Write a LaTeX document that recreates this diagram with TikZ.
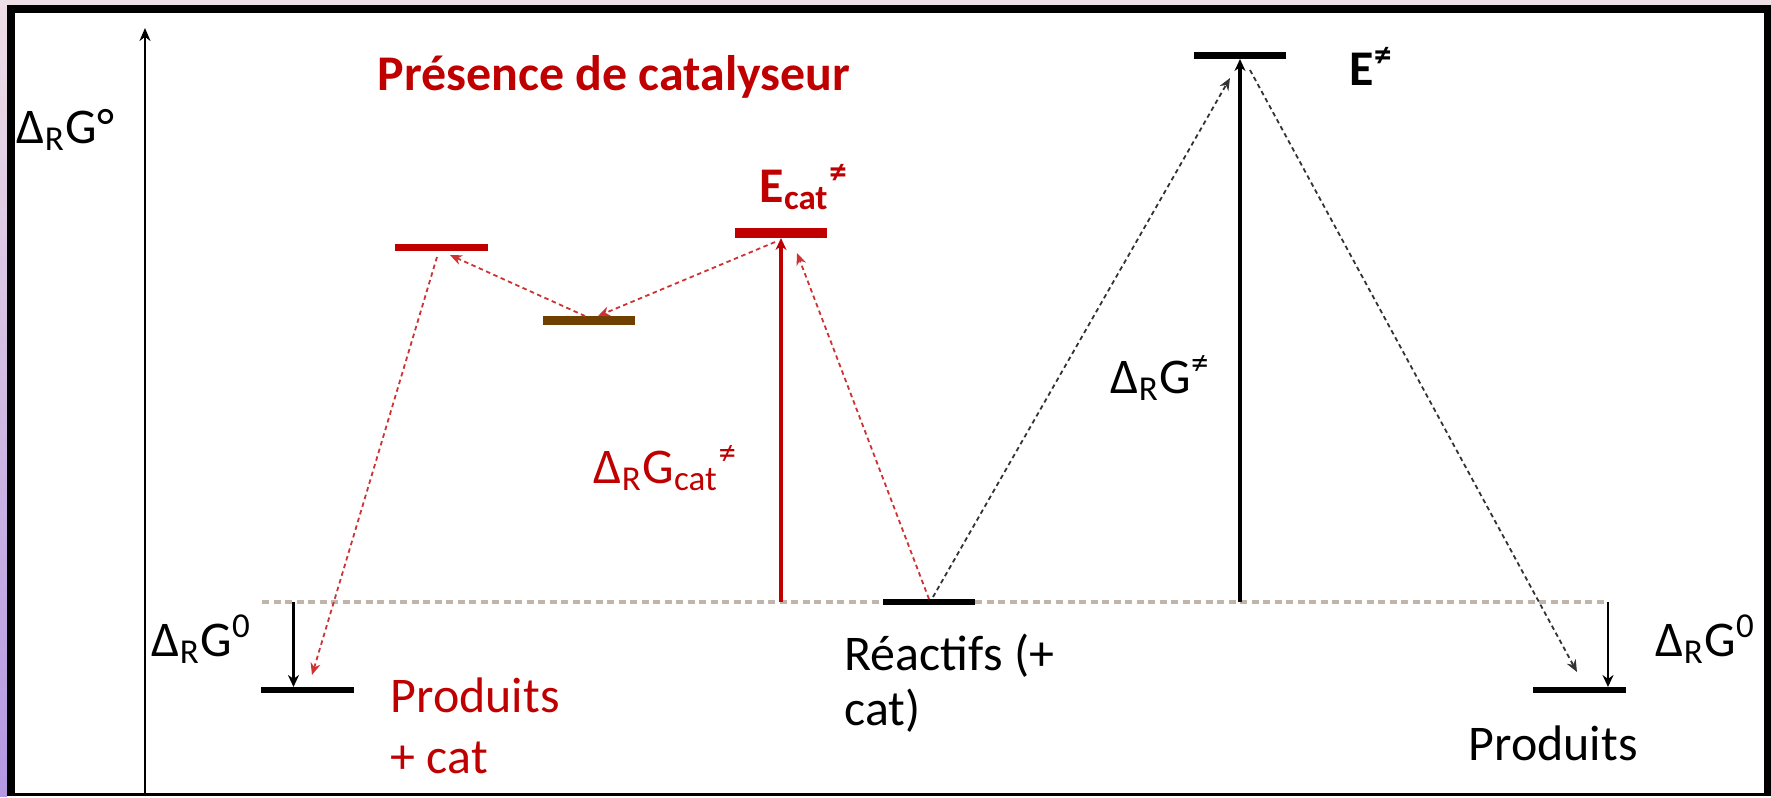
\documentclass[tikz,border=0pt]{standalone}
\usepackage{fontspec}
\setmainfont{Carlito}
\usepackage{xcolor}
\usepackage{tikz}
\usetikzlibrary{arrows.meta}
\definecolor{catred}{RGB}{192,0,0}
\definecolor{interbrown}{RGB}{112,64,0}
\definecolor{refgrey}{RGB}{192,181,171}
\definecolor{framepink}{RGB}{238,222,230}
\definecolor{framelilac}{RGB}{180,152,226}

\begin{document}
\begin{tikzpicture}[x=0.01cm,y=-0.01cm,
        lvl/.style={minimum width=0.92cm,minimum height=0.065cm,inner sep=0,
                    outer sep=0},
        lbl/.style={anchor=base west,inner sep=0,
                    font=\fontsize{14.2}{17}\selectfont},
        dG/.style={line width=0.022cm,-{Stealth[length=0.12cm,width=0.11cm]}},
        way/.style={line width=0.018cm,dash pattern=on 0.045cm off 0.035cm,
                    -{Stealth[length=0.12cm,width=0.1cm]}}]
        % cadre
        \fill[framepink] (0,0) rectangle (1771,796);
        \shade[top color=framepink,bottom color=framelilac] (0,0) rectangle (7,796);
        \fill[black] (7,5) rectangle (1771,796);
        \fill[white] (15,13) rectangle (1764,793);
        % axe
        \coordinate (o) at (145,796);
        \coordinate (up) at (145,28);
        \draw[line width=0.026cm,-{Stealth[length=0.13cm,width=0.11cm]}] (o) -- (up);
        \coordinate (gl) at (262,602);
        \coordinate (gr) at (1608,602);
        \draw[refgrey,line width=0.045cm,dash pattern=on 0.07cm off 0.045cm] (gl) -- (gr);
        % niveaux
        \foreach \n/\x/\y/\c/\h in {prodL/307.5/690/black/0.06cm,
                                    prodR/1579.5/690/black/0.06cm,
                                    rea/929/602/black/0.06cm,
                                    ts1/441.5/247.5/catred/0.07cm,
                                    inter/589/320.5/interbrown/0.09cm,
                                    ecat/781/233/catred/0.1cm,
                                    ets/1240/55.5/black/0.07cm}
          \node[lvl,fill=\c,minimum height=\h] (\n) at (\x,\y) {};
        % fleches DeltaG
        \draw[dG] ([xshift=-0.14cm]prodL.north |- gl) -- ([xshift=-0.14cm]prodL.north);
        \draw[dG] ([xshift=0.285cm]prodR.north |- gr) -- ([xshift=0.285cm]prodR.north);
        \draw[dG,catred,line width=0.04cm] (ecat.south |- rea) -- (ecat.south);
        \draw[dG,line width=0.035cm] (ets.south |- rea) -- (ets.south);
        % chemins
        \draw[way,catred!80] (rea.north) -- ([xshift=0.16cm,yshift=-0.15cm]ecat.south);
        \draw[way,catred!80] ([xshift=-0.06cm,yshift=-0.04cm]ecat.south)
          -- ([xshift=0.09cm]inter.north);
        \draw[way,catred!80] ([xshift=-0.04cm]inter.north)
          -- ([xshift=0.085cm,yshift=-0.04cm]ts1.south);
        \draw[way,catred!80] ([xshift=-0.045cm,yshift=-0.06cm]ts1.south)
          -- ([xshift=0.045cm,yshift=0.12cm]prodL.north);
        \draw[way,black!80] ([xshift=0.04cm,yshift=0.02cm]rea.north)
          -- ([xshift=-0.1cm,yshift=-0.19cm]ets.south);
        \draw[way,black!80] ([xshift=0.1cm,yshift=-0.11cm]ets.south)
          -- ([xshift=-0.025cm,yshift=0.15cm]prodR.north);
        % textes
        \node[lbl] (axlbl) at (16,143) {Δ\textsubscript{R}G°};
        \node[lbl,catred,font=\fontsize{14.2}{17}\selectfont\bfseries] (title)
          at (377,90) {Présence de catalyseur};
        \node[lbl,catred,font=\fontsize{14.2}{17}\selectfont\bfseries] (ecatlbl)
          at (759,202) {E\textsubscript{cat}\textsuperscript{≠}};
        \node[lbl,font=\fontsize{14.2}{17}\selectfont\bfseries] (etslbl)
          at (1349,85) {E\textsuperscript{≠}};
        \node[lbl,catred] (dgcat) at (593,483) {Δ\textsubscript{R}G\textsubscript{cat}\textsuperscript{≠}};
        \node[lbl] (dgts) at (1110,393) {Δ\textsubscript{R}G\textsuperscript{≠}};
        \node[lbl] (dgL) at (151,656) {Δ\textsubscript{R}G\textsuperscript{0}};
        \node[lbl] (dgR) at (1655,656) {Δ\textsubscript{R}G\textsuperscript{0}};
        \node[lbl] (rea1) at (844,670) {Réactifs (+};
        \node[lbl] (rea2) at (844,725) {cat)};
        \node[lbl,catred] (prodL1) at (390,712) {Produits};
        \node[lbl,catred] (prodL2) at (390,773) {+ cat};
        \node[lbl] (prodR1) at (1468,760) {Produits};
      \end{tikzpicture}
\end{document}
